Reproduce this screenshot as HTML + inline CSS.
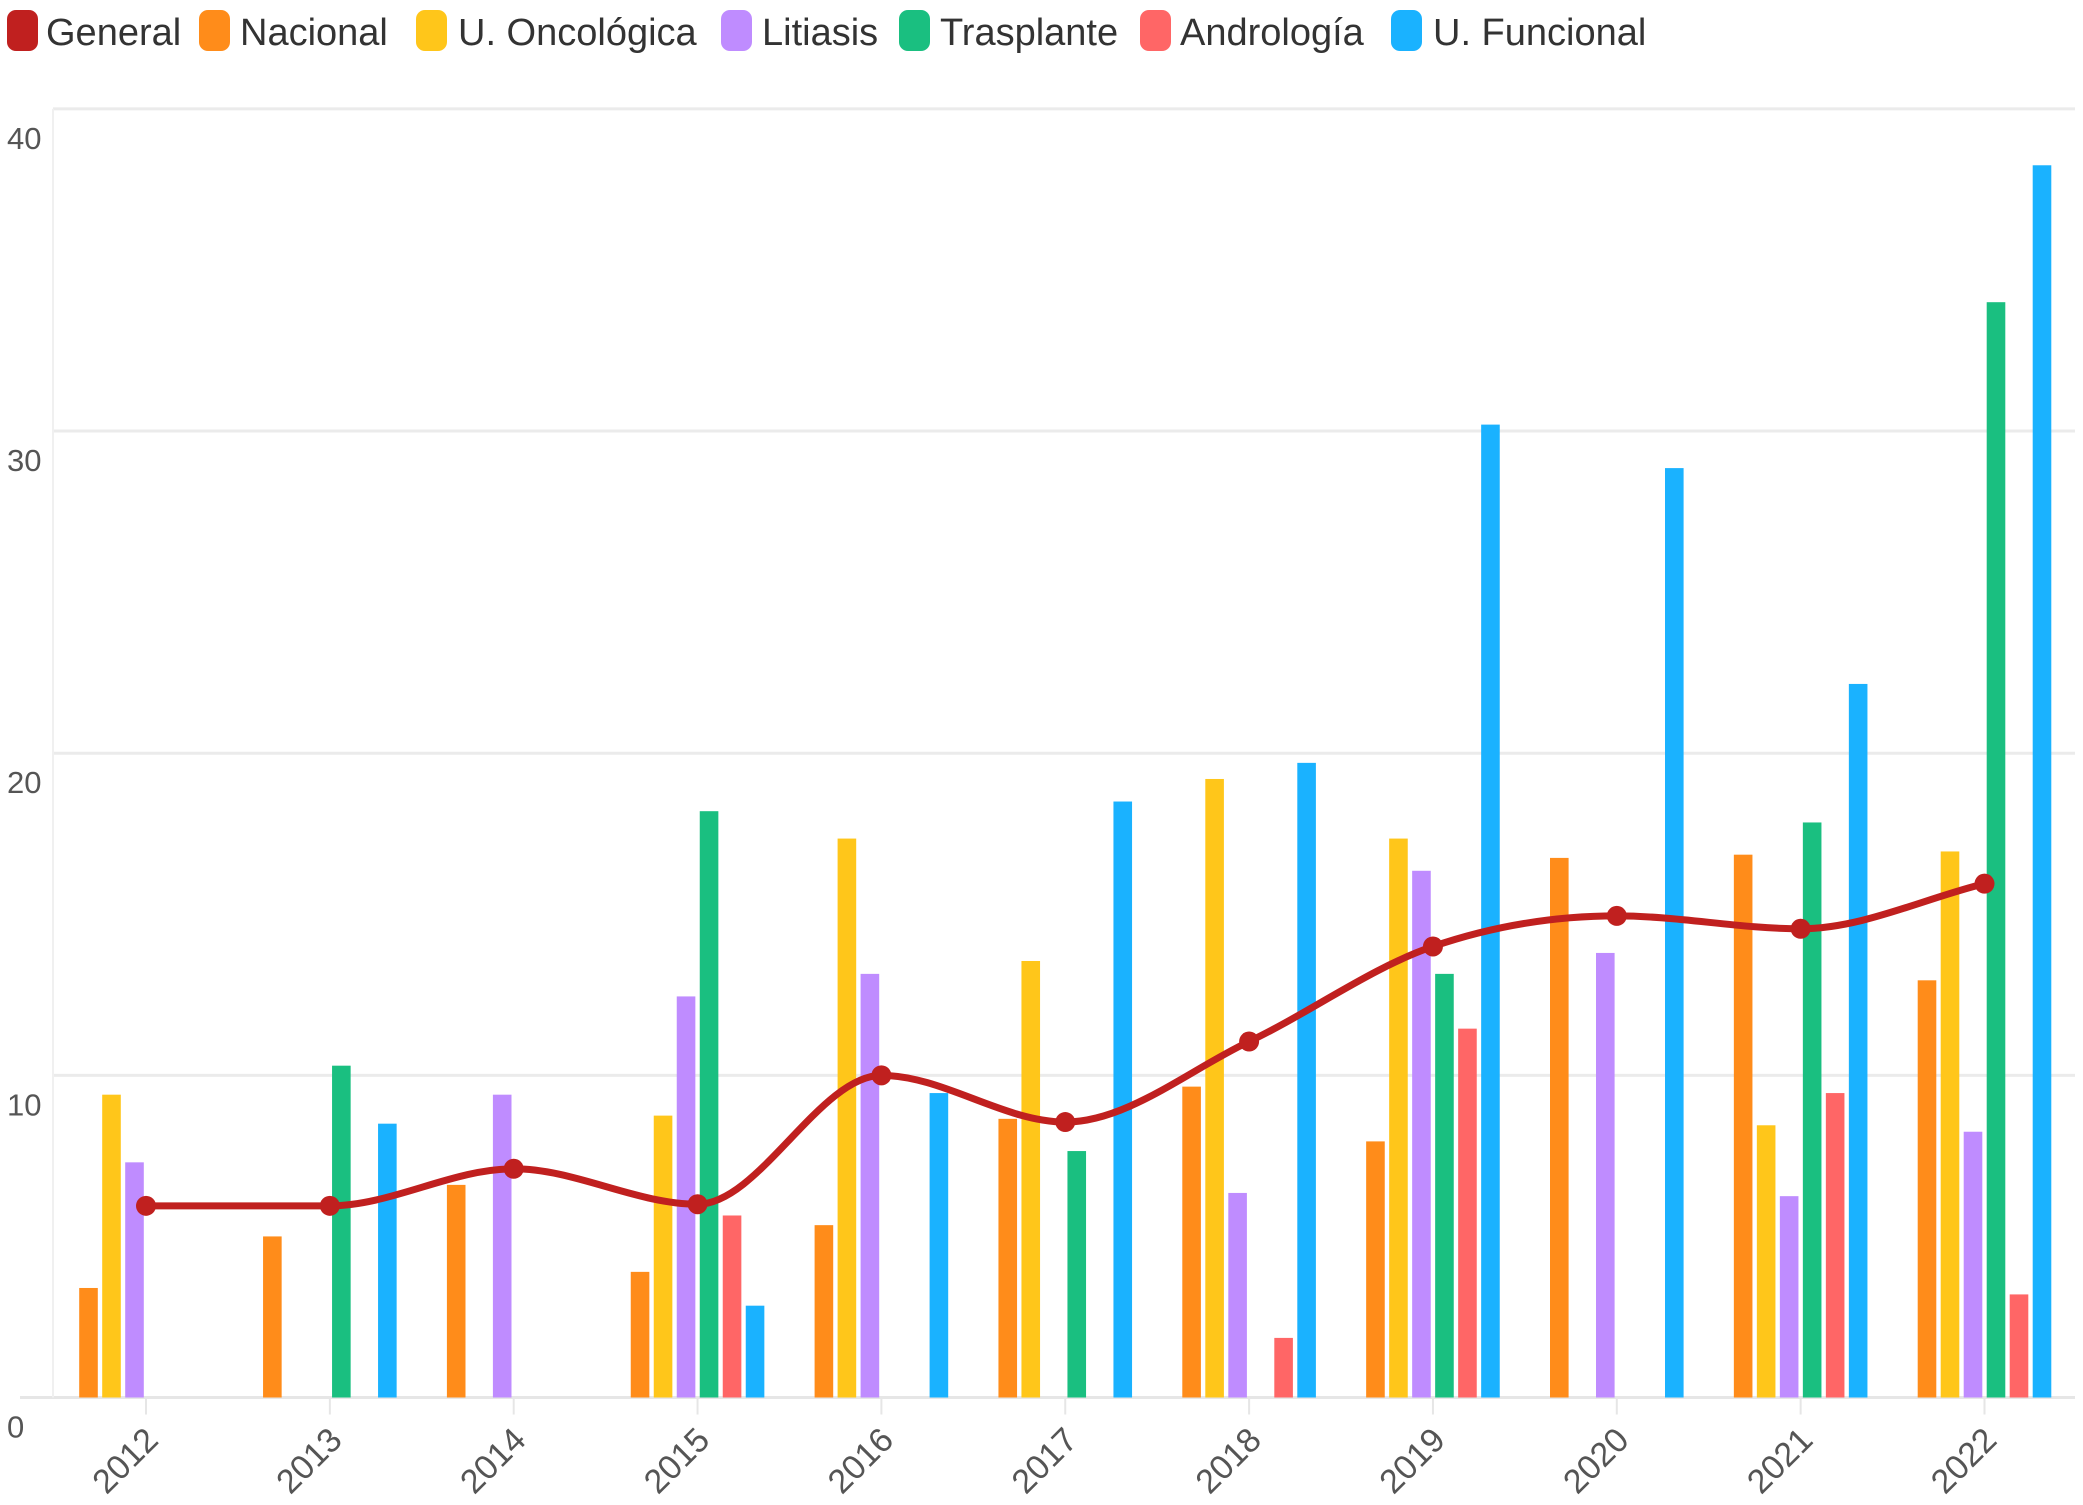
<!DOCTYPE html>
<html><head><meta charset="utf-8"><style>
html,body{margin:0;padding:0;background:#fff;}
svg{display:block;font-family:"Liberation Sans",sans-serif;}
</style></head><body>
<svg id="chart" width="2083" height="1505" viewBox="0 0 2083 1505" xmlns="http://www.w3.org/2000/svg"></svg>
<script>
const categories=["2012","2013","2014","2015","2016","2017","2018","2019","2020","2021","2022"];
const seriesNames=["Nacional","U. Oncológica","Litiasis","Trasplante","Andrología","U. Funcional"];
const nacional=[3.4,5.0,6.6,3.9,5.35,8.65,9.65,7.95,16.75,16.85,12.95];
const oncologica=[9.4,0,0,8.75,17.35,13.55,19.2,17.35,0,8.45,16.95];
const litiasis=[7.3,0,9.4,12.45,13.15,0,6.35,16.35,13.8,6.25,8.25];
const trasplante=[0,10.3,0,18.2,0,7.65,0,13.15,0,17.85,34.0];
const andrologia=[0,0,0,5.65,0,0,1.85,11.45,0,9.45,3.2];
const funcional=[0,8.5,0,2.85,9.45,18.5,19.7,30.2,28.85,22.15,38.25];
const general=[5.95,5.95,7.1,6.0,10.0,8.55,11.05,14.0,14.95,14.55,15.95];
const yTicks=[0,10,20,30,40];

const NS="http://www.w3.org/2000/svg";
const svg=document.getElementById('chart');
const colors=["#ff8c1a","#ffc61a","#bf8cff","#1abf80","#ff6666","#1ab2ff"];
const genColor="#c0201f";
const plotL=53,plotR=2075,y0=1397.5,y40=108.9;
const yScale=v=>y0-(v/40)*(y0-y40);
const cx0=146,step=183.85;
const xScale=i=>cx0+i*step;
function mk(tag,attrs,parent){const e=document.createElementNS(NS,tag);for(const k in attrs)e.setAttribute(k,attrs[k]);(parent||svg).appendChild(e);return e;}

// legend
const legend=mk('g',{});


const legItems=[["General",genColor,7,46],["Nacional",colors[0],199,240],["U. Oncológica",colors[1],416,458],["Litiasis",colors[2],721,762],["Trasplante",colors[3],899,940],["Andrología",colors[4],1140,1180],["U. Funcional",colors[5],1391,1433]];
legItems.forEach(it=>{
  const g=mk('g',{},legend);
  
  
  mk('rect',{x:it[2],y:10,width:31,height:41,rx:9,fill:it[1]},g);
  const t=mk('text',{x:it[3],y:45,'font-size':38,fill:'#333'},g);t.textContent=it[0];
});

// grid
const grid=mk('g',{});


yTicks.forEach(v=>{
  const y=yScale(v);
  mk('line',{x1:v===0?20:plotL,x2:plotR,y1:y,y2:y,stroke:v===0?'#e6e6e6':'#ebebeb','stroke-width':3},grid);
  const t=mk('text',{x:7,y:y+40,'font-size':31,fill:'#555'},grid);
  
  
  t.textContent=v;
});
mk('line',{x1:plotL,x2:plotL,y1:y40,y2:y0,stroke:'#f0f0f0','stroke-width':2},grid);

// bars
const series=[nacional,oncologica,litiasis,trasplante,andrologia,funcional];
const offs=[-57.5,-34.5,-11.5,11.5,34.5,57.5];
const bw=18.6;
const bars=mk('g',{});


series.forEach((arr,s)=>{
  arr.forEach((v,i)=>{
    if(!v)return;
    const x=xScale(i)+offs[s]-bw/2,y=yScale(v);
    const r=mk('rect',{x:x,y:y,width:bw,height:y0-y,fill:colors[s]},bars);
    
    
  });
});

// x axis
const xa=mk('g',{});


categories.forEach((c,i)=>{
  const x=xScale(i);
  mk('line',{x1:x,x2:x,y1:y0,y2:y0+17,stroke:'#e6e6e6','stroke-width':2},xa);
  const tx=x+14,ty=1442;
  const t=mk('text',{x:tx,y:ty,'font-size':34,fill:'#555','text-anchor':'end',transform:`rotate(-45 ${tx} ${ty})`},xa);
  
  
  t.textContent=c;
});

// general line (monotone cubic)
const pts=general.map((v,i)=>[xScale(i),yScale(v)]);
function monotone(p){
  const n=p.length,d=[],m=[];
  for(let i=0;i<n-1;i++)d.push((p[i+1][1]-p[i][1])/(p[i+1][0]-p[i][0]));
  for(let i=0;i<n;i++){
    if(i===0)m.push(d[0]);else if(i===n-1)m.push(d[n-2]);
    else m.push(d[i-1]*d[i]<=0?0:(d[i-1]+d[i])/2);
  }
  for(let i=0;i<n-1;i++){
    if(d[i]===0){m[i]=0;m[i+1]=0;continue;}
    const a=m[i]/d[i],b=m[i+1]/d[i],h=a*a+b*b;
    if(h>9){const t=3/Math.sqrt(h);m[i]=t*a*d[i];m[i+1]=t*b*d[i];}
  }
  let s=`M${p[0][0]},${p[0][1]}`;
  for(let i=0;i<n-1;i++){
    const dx=(p[i+1][0]-p[i][0])/3;
    s+=` C${p[i][0]+dx},${p[i][1]+m[i]*dx} ${p[i+1][0]-dx},${p[i+1][1]-m[i+1]*dx} ${p[i+1][0]},${p[i+1][1]}`;
  }
  return s;
}
const line=mk('path',{d:monotone(pts),fill:'none',stroke:genColor,'stroke-width':7,'stroke-linecap':'round'});


pts.forEach((p,i)=>{
  const c=mk('circle',{cx:p[0],cy:p[1],r:10,fill:genColor});
  
  
});
</script>
</body></html>
